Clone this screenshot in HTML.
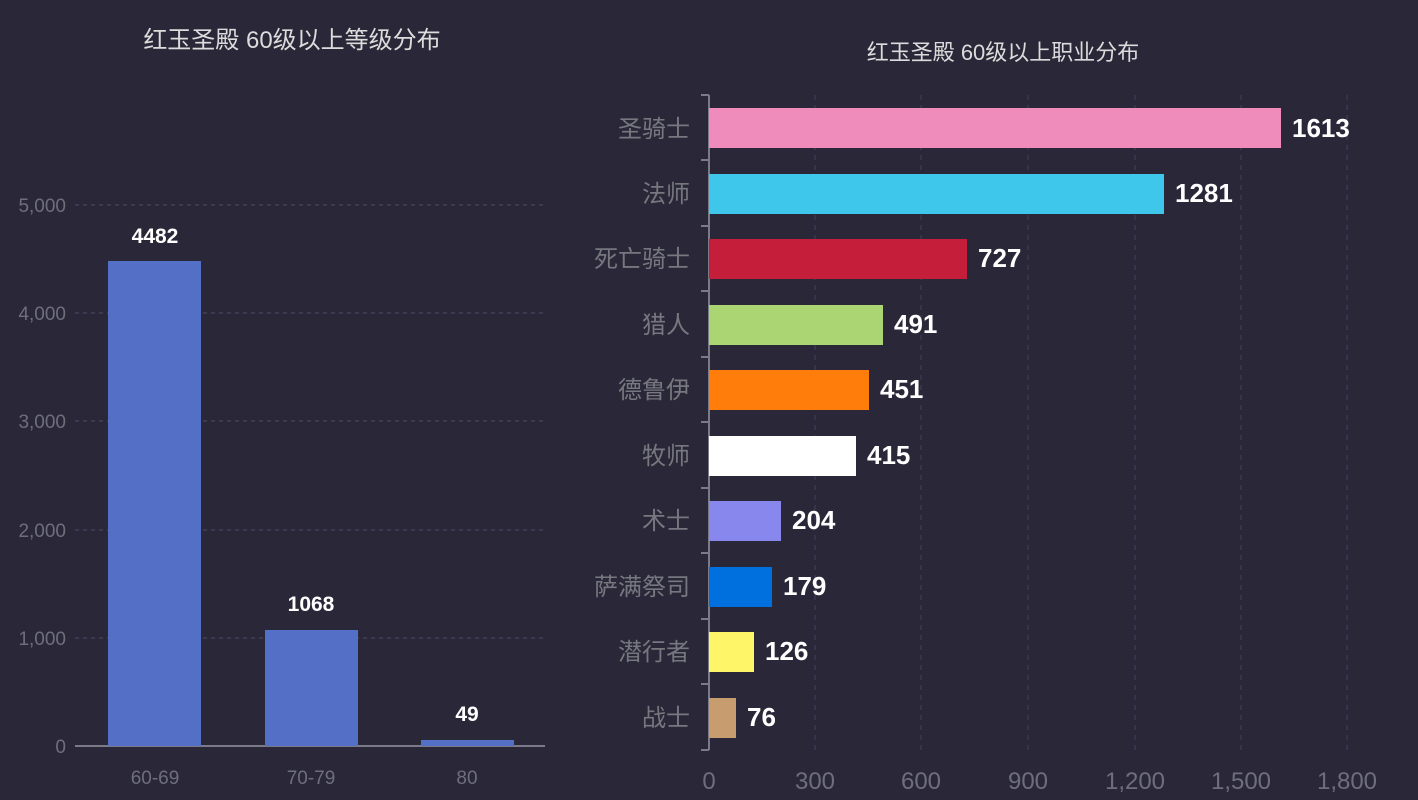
<!DOCTYPE html><html><head><meta charset="utf-8"><style>body{margin:0;background:#2a2838}svg{display:block}text{font-family:"Liberation Sans","Noto Sans CJK SC",sans-serif}</style></head><body>
<svg width="1418" height="800" viewBox="0 0 1418 800">
<rect width="1418" height="800" fill="#2a2838"/>
<text x="292" y="48" fill="#dcdcdc" font-size="24" text-anchor="middle">红玉圣殿 60级以上等级分布</text>
<g stroke="#4a4c6c" stroke-dasharray="4 4">
<line x1="75" x2="545" y1="205" y2="205"/><line x1="75" x2="545" y1="313" y2="313"/><line x1="75" x2="545" y1="421" y2="421"/><line x1="75" x2="545" y1="530" y2="530"/><line x1="75" x2="545" y1="638" y2="638"/></g>
<line x1="75" x2="545" y1="746" y2="746" stroke="#7a7a88" stroke-width="2"/>
<g fill="#6e6e7c" font-size="19" text-anchor="end">
<text x="66" y="212">5,000</text><text x="66" y="320">4,000</text><text x="66" y="428">3,000</text><text x="66" y="537">2,000</text><text x="66" y="645">1,000</text><text x="66" y="753">0</text></g>
<g fill="#5470c6"><rect x="108" y="261" width="93" height="485"/><rect x="265" y="630" width="93" height="116"/><rect x="421" y="740" width="93" height="6"/></g>
<g fill="#fff" font-size="21" font-weight="bold" text-anchor="middle"><text x="155" y="243">4482</text><text x="311" y="611">1068</text><text x="467" y="721">49</text></g>
<g fill="#6e6e7c" font-size="19" text-anchor="middle"><text x="155" y="784">60-69</text><text x="311" y="784">70-79</text><text x="467" y="784">80</text></g>
<text x="1003" y="60" fill="#dcdcdc" font-size="22" text-anchor="middle">红玉圣殿 60级以上职业分布</text>
<g stroke="#3c4266" stroke-dasharray="5 5">
<line x1="815" x2="815" y1="95" y2="750"/><line x1="921" x2="921" y1="95" y2="750"/><line x1="1028" x2="1028" y1="95" y2="750"/><line x1="1135" x2="1135" y1="95" y2="750"/><line x1="1241" x2="1241" y1="95" y2="750"/><line x1="1347" x2="1347" y1="95" y2="750"/></g>
<line x1="709" x2="709" y1="95" y2="750" stroke="#7a7a88" stroke-width="2"/>
<g stroke="#7a7a88" stroke-width="2">
<line x1="701" x2="709" y1="95" y2="95"/><line x1="701" x2="709" y1="160" y2="160"/><line x1="701" x2="709" y1="226" y2="226"/><line x1="701" x2="709" y1="291" y2="291"/><line x1="701" x2="709" y1="357" y2="357"/><line x1="701" x2="709" y1="422" y2="422"/><line x1="701" x2="709" y1="488" y2="488"/><line x1="701" x2="709" y1="553" y2="553"/><line x1="701" x2="709" y1="619" y2="619"/><line x1="701" x2="709" y1="684" y2="684"/><line x1="701" x2="709" y1="750" y2="750"/></g>
<g>
<rect x="709" y="108" width="572" height="40" fill="#f08cbb"/>
<rect x="709" y="174" width="455" height="40" fill="#3ec6eb"/>
<rect x="709" y="239" width="258" height="40" fill="#c41e3a"/>
<rect x="709" y="305" width="174" height="40" fill="#abd473"/>
<rect x="709" y="370" width="160" height="40" fill="#ff7d0a"/>
<rect x="709" y="436" width="147" height="40" fill="#ffffff"/>
<rect x="709" y="501" width="72" height="40" fill="#8787ed"/>
<rect x="709" y="567" width="63" height="40" fill="#0070de"/>
<rect x="709" y="632" width="45" height="40" fill="#fff569"/>
<rect x="709" y="698" width="27" height="40" fill="#c79c6e"/></g>
<g fill="#fff" font-size="26" font-weight="bold">
<text x="1292" y="137">1613</text><text x="1175" y="202">1281</text><text x="978" y="267">727</text><text x="894" y="333">491</text><text x="880" y="398">451</text><text x="867" y="464">415</text><text x="792" y="529">204</text><text x="783" y="595">179</text><text x="765" y="660">126</text><text x="747" y="726">76</text></g>
<g fill="#77777f" font-size="24" text-anchor="end">
<text x="690" y="137">圣骑士</text><text x="690" y="202">法师</text><text x="690" y="267">死亡骑士</text><text x="690" y="333">猎人</text><text x="690" y="398">德鲁伊</text><text x="690" y="464">牧师</text><text x="690" y="529">术士</text><text x="690" y="595">萨满祭司</text><text x="690" y="660">潜行者</text><text x="690" y="726">战士</text></g>
<g fill="#6e6e7c" font-size="24" text-anchor="middle">
<text x="709" y="789">0</text><text x="815" y="789">300</text><text x="921" y="789">600</text><text x="1028" y="789">900</text><text x="1135" y="789">1,200</text><text x="1241" y="789">1,500</text><text x="1347" y="789">1,800</text></g>
</svg></body></html>
